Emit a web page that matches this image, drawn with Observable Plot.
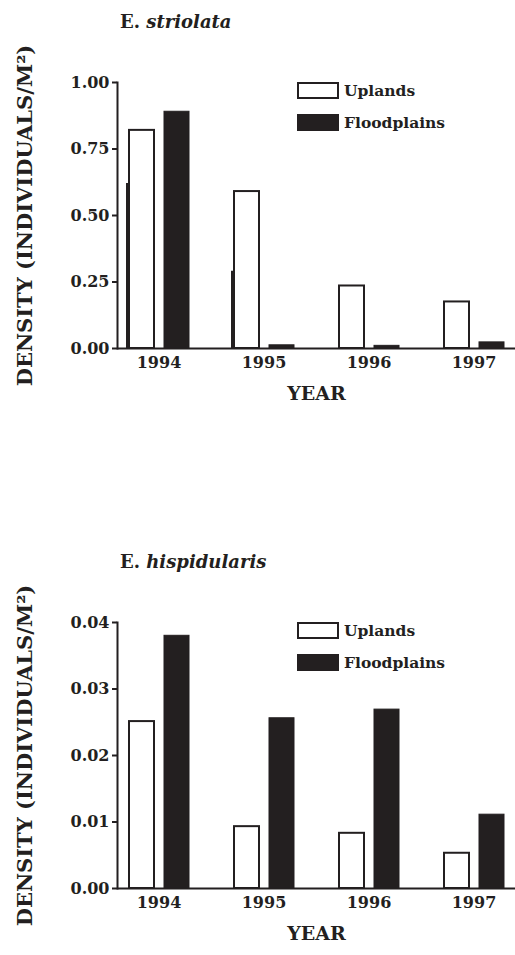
<!DOCTYPE html>
<html>
<head>
<meta charset="utf-8">
<script src="https://cdn.jsdelivr.net/npm/d3@7"></script>
<script src="https://cdn.jsdelivr.net/npm/@observablehq/plot@0.6"></script>
<style>
  html, body { margin: 0; padding: 0; background: #fff; }
  #page { position: relative; width: 515px; height: 955px; overflow: hidden; font-family: "DejaVu Serif", serif; color: #231f20; }
  .panel { position: absolute; left: 0; width: 515px; }
  .title { position: absolute; left: 120px; font-size: 18px; font-weight: bold; white-space: nowrap; }
  .title i { font-style: italic; }
  .legend { position: absolute; left: 297px; font-size: 15.5px; font-weight: bold; }
  .legend .row { display: flex; align-items: center; height: 32px; }
  .legend .sw { width: 38px; height: 13px; border: 2px solid #231f20; margin-right: 5px; box-sizing: content-box; }
</style>
</head>
<body>
<div id="page"></div>
<script>
const years = ["1994", "1995", "1996", "1997"];
const seriesNames = ["Uplands", "Floodplains"];

// Panel A (top)
const titleA = ["E.", "striolata"];
const uplandsA = [0.82, 0.59, 0.235, 0.175];
const floodplainsA = [0.89, 0.012, 0.01, 0.023];
const uplandsLinesA = [0.62, 0.29, null, null]; // stray vertical strokes left of the upland bars
const ticksA = [0, 0.25, 0.5, 0.75, 1.0];

// Panel B (bottom)
const titleB = ["E.", "hispidularis"];
const uplandsB = [0.0251, 0.0093, 0.0083, 0.0053];
const floodplainsB = [0.038, 0.0256, 0.0269, 0.0111];
const uplandsLinesB = [null, null, null, null];
const ticksB = [0, 0.01, 0.02, 0.03, 0.04];

const yLabel = "DENSITY (INDIVIDUALS/M²)";
const xLabel = "YEAR";
const ink = "#231f20";

function rows(up, fl) {
  const out = [];
  years.forEach((y, i) => {
    out.push({year: y, series: seriesNames[0], value: up[i]});
    out.push({year: y, series: seriesNames[1], value: fl[i]});
  });
  return out;
}

function makePanel(top, title, up, fl, lines, ticks, yMax, height, mb) {
  const data = rows(up, fl);
  const lineData = years.map((y, i) => ({year: y, value: lines[i]})).filter(d => d.value != null);
  const panel = document.createElement("div");
  panel.className = "panel";
  panel.style.top = top + "px";
  panel.style.height = height + "px";

  const chart = Plot.plot({
    width: 515,
    height: height,
    marginLeft: 117,
    marginRight: 0,
    marginTop: 82,
    marginBottom: mb,
    style: {fontFamily: "DejaVu Serif", fontWeight: "bold", fontSize: "16px", color: ink, background: "transparent"},
    x: {domain: years, paddingInner: 0.763, paddingOuter: 0.27, axis: null},
    y: {domain: [0, yMax], axis: null},
    marks: [
      Plot.barY(data.filter(d => d.series === "Uplands"), {x: "year", y: "value", dx: -17, fill: "white", stroke: ink, strokeWidth: 2}),
      Plot.barY(data.filter(d => d.series === "Floodplains"), {x: "year", y: "value", dx: 18, fill: ink, stroke: ink, strokeWidth: 1}),
      Plot.ruleX(lineData, {x: "year", y1: 0, y2: "value", dx: -32, stroke: ink, strokeWidth: 2}),
      Plot.ruleY([0], {stroke: ink, strokeWidth: 2}),
      Plot.frame({anchor: "left", stroke: ink, strokeWidth: 2}),
      Plot.axisY({ticks: ticks, tickFormat: d3.format(".2f"), tickSize: 5, tickPadding: 3, strokeWidth: 2, label: null, fontSize: 16}),
      Plot.axisX({tickSize: 0, tickPadding: 8, label: null, fontSize: 16}),
      Plot.text([yLabel], {frameAnchor: "left", textAnchor: "middle", rotate: -90, dx: -92, fontSize: 21, fontWeight: "bold", fill: ink}),
      Plot.text([xLabel], {frameAnchor: "bottom", dy: 51, fontSize: 19, fontWeight: "bold", fill: ink})
    ]
  });
  panel.appendChild(chart);

  const t = document.createElement("div");
  t.className = "title";
  t.style.top = "11px";
  t.innerHTML = title[0] + " <i>" + title[1] + "</i>";
  panel.appendChild(t);

  const lg = document.createElement("div");
  lg.className = "legend";
  lg.style.top = "74px";
  lg.innerHTML =
    `<div class="row"><span class="sw" style="background:white"></span>${seriesNames[0]}</div>` +
    `<div class="row"><span class="sw" style="background:${ink}"></span>${seriesNames[1]}</div>`;
  panel.appendChild(lg);

  document.getElementById("page").appendChild(panel);
}

makePanel(0, titleA, uplandsA, floodplainsA, uplandsLinesA, ticksA, 1.0, 420, 72);
makePanel(540, titleB, uplandsB, floodplainsB, uplandsLinesB, ticksB, 0.04, 415, 67);
</script>
</body>
</html>
